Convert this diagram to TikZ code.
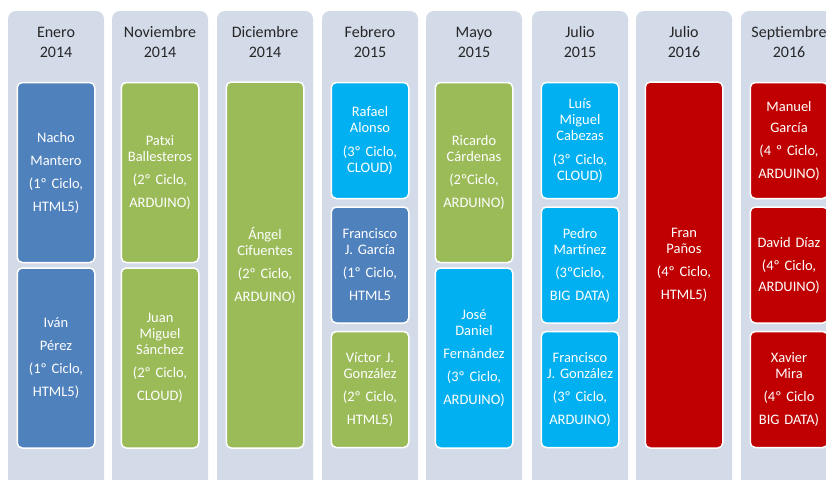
\documentclass[tikz,border=0pt]{standalone}
\usepackage{fontspec}
\setmainfont{Carlito}
\definecolor{colbg}{HTML}{D3DBE9}
\definecolor{cblue}{HTML}{4F81BD}
\definecolor{cgreen}{HTML}{9BBB59}
\definecolor{ccyan}{HTML}{00B0F0}
\definecolor{cred}{HTML}{C00000}
\begin{document}
\begin{tikzpicture}[x=1pt, y=-1pt,
      col/.style={fill=colbg, rounded corners=8pt, minimum width=96pt, minimum height=489pt, inner sep=0pt},
      hdr/.style={align=center, text=black!85, font=\fontsize{16}{20}\selectfont},
      box/.style={draw=white, line width=1.5pt, rounded corners=5pt, minimum width=77.5pt, inner sep=0pt,
        text width=76pt, align=center, text=white, font=\fontsize{14.5}{16}\selectfont},
      tall/.style={box, minimum height=366pt},
      half/.style={box, minimum height=180pt},
      third/.style={box, minimum height=116pt}]
    \useasboundingbox (0,0) rectangle (826,479);
    \clip (0,0) rectangle (826,479);
    % columns
    \node[col] (c1) at (56,255.5) {};
    \node[col] (c2) at (160,255.5) {};
    \node[col] (c3) at (265,255.5) {};
    \node[col] (c4) at (370,255.5) {};
    \node[col] (c5) at (474,255.5) {};
    \node[col] (c6) at (580,255.5) {};
    \node[col] (c7) at (684,255.5) {};
    \node[col] (c8) at (789,255.5) {};
    % dates
    \node[hdr] (h1) at (56,42) {Enero\\2014};
    \node[hdr] (h2) at (160,42) {Noviembre\\2014};
    \node[hdr] (h3) at (265,42) {Diciembre\\2014};
    \node[hdr] (h4) at (370,42) {Febrero\\2015};
    \node[hdr] (h5) at (474,42) {Mayo\\2015};
    \node[hdr] (h6) at (580,42) {Julio\\2015};
    \node[hdr] (h7) at (684,42) {Julio\\2016};
    \node[hdr] (h8) at (789,42) {Septiembre\\2016};
    % people
    \node[half, fill=cblue] (nacho) at (56,172.5) {Nacho\\[7pt]Mantero\\[7pt](1º Ciclo,\\[7pt]HTML5)};
    \node[half, fill=cblue] (ivan) at (56,358) {Iván\\[7pt]Pérez\\[7pt](1º Ciclo,\\[7pt]HTML5)};
    \node[half, fill=cgreen] (patxi) at (160,172.5) {Patxi\\Ballesteros\\[7pt](2º Ciclo,\\[7pt]ARDUINO)};
    \node[half, fill=cgreen] (juan) at (160,358) {Juan\\Miguel\\Sánchez\\[7pt](2º Ciclo,\\[7pt]CLOUD)};
    \node[tall, fill=cgreen] (angel) at (265,265) {Ángel\\Cifuentes\\[7pt](2º Ciclo,\\[7pt]ARDUINO)};
    \node[third, fill=ccyan] (rafael) at (370,140.5) {Rafael\\Alonso\\[8pt](3º Ciclo,\\CLOUD)};
    \node[third, fill=cblue] (fgarcia) at (370,265) {Francisco\\J. García\\[7pt](1º Ciclo,\\[7pt]HTML5};
    \node[third, fill=cgreen] (victor) at (370,389.5) {Víctor J.\\González\\[7pt](2º Ciclo,\\[7pt]HTML5)};
    \node[half, fill=cgreen] (ricardo) at (474,172.5) {Ricardo\\Cárdenas\\[7pt](2ºCiclo,\\[7pt]ARDUINO)};
    \node[half, fill=ccyan] (jose) at (474,358) {José\\Daniel\\[7pt]Fernández\\[7pt](3º Ciclo,\\[7pt]ARDUINO)};
    \node[third, fill=ccyan] (luis) at (580,140.5) {Luís\\Miguel\\Cabezas\\[8pt](3º Ciclo,\\CLOUD)};
    \node[third, fill=ccyan] (pedro) at (580,265) {Pedro\\Martínez\\[7pt](3ºCiclo,\\[7pt]BIG DATA)};
    \node[third, fill=ccyan] (fgonzalez) at (580,389.5) {Francisco\\J. González\\[7pt](3º Ciclo,\\[7pt]ARDUINO)};
    \node[tall, fill=cred] (fran) at (684,265) {Fran\\Paños\\[7pt](4º Ciclo,\\[7pt]HTML5)};
    \node[third, fill=cred] (manuel) at (789,140.5) {Manuel\\[5pt]García\\[7pt](4 º Ciclo,\\[7pt]ARDUINO)};
    \node[third, fill=cred] (david) at (789,265) {David Díaz\\[7pt](4º Ciclo,\\[5pt]ARDUINO)};
    \node[third, fill=cred] (xavier) at (789,389.5) {Xavier\\Mira\\[7pt](4º Ciclo\\[7pt]BIG DATA)};
  \end{tikzpicture}
\end{document}
